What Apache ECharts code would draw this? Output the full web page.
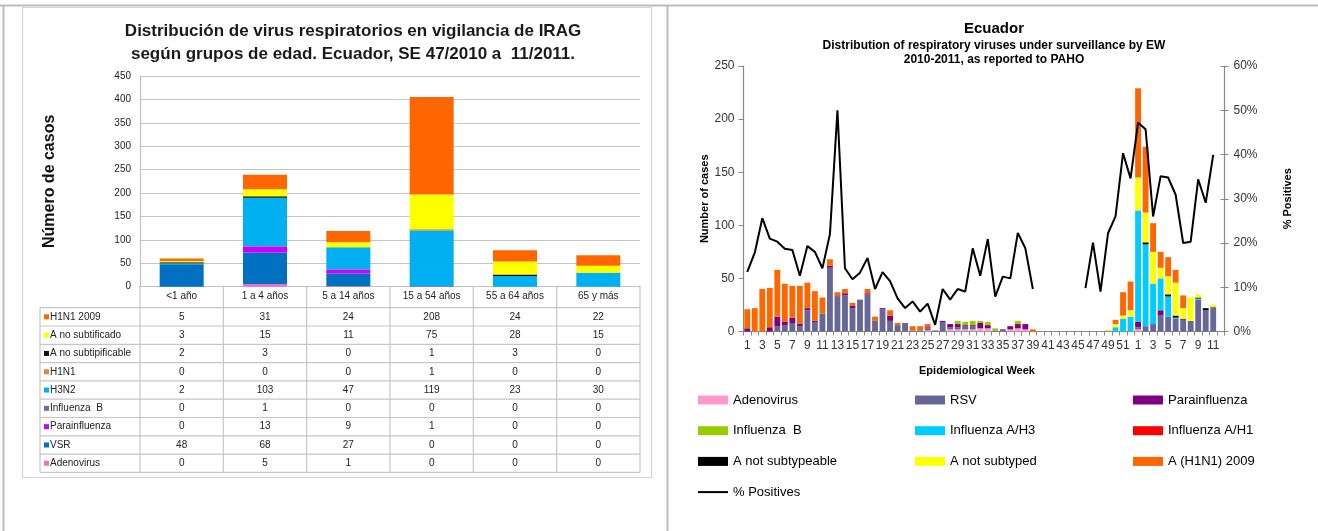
<!DOCTYPE html>
<html><head><meta charset="utf-8">
<script src="https://cdn.jsdelivr.net/npm/echarts@6/dist/echarts.min.js"></script>
<style>html,body{margin:0;padding:0;background:#fff}#c{width:1318px;height:531px}</style>
</head><body><div id="c"></div>
<script>
// ---------- LEFT CHART DATA (age groups) ----------
const ageGroups = ['<1 año', '1 a 4 años', '5 a 14 años', '15 a 54 años', '55 a 64 años', '65 y más'];
const adenoAge      = [0, 5, 1, 0, 0, 0];
const vsrAge        = [48, 68, 27, 0, 0, 0];
const paraAge       = [0, 13, 9, 1, 0, 0];
const fluBAge       = [0, 1, 0, 0, 0, 0];
const h3n2Age       = [2, 103, 47, 119, 23, 30];
const h1n1Age       = [0, 0, 0, 1, 0, 0];
const noSubtipifAge = [2, 3, 0, 1, 3, 0];
const noSubtifAge   = [3, 15, 11, 75, 28, 15];
const pdmAge        = [5, 31, 24, 208, 24, 22];
const leftLabels = ['Adenovirus', 'VSR', 'Parainfluenza', 'Influenza  B', 'H3N2', 'H1N1', 'A no subtipificable', 'A no subtificado', 'H1N1 2009'];
const leftData = [adenoAge, vsrAge, paraAge, fluBAge, h3n2Age, h1n1Age, noSubtipifAge, noSubtifAge, pdmAge];
const leftColors = ['#FF66CC', '#0070C0', '#CC00FF', '#8064A2', '#00B0F0', '#E4843C', '#111111', '#FFFF00', '#FF6600'];
const leftTicks = [0, 450, 50];

// ---------- RIGHT CHART DATA (epidemiological weeks 2010-1 .. 2011-12) ----------
const weekLabels = ['1','2','3','4','5','6','7','8','9','10','11','12','13','14','15','16','17','18','19','20',
  '21','22','23','24','25','26','27','28','29','30','31','32','33','34','35','36','37','38','39','40',
  '41','42','43','44','45','46','47','48','49','50','51','52',
  '1','2','3','4','5','6','7','8','9','10','11','12'];
const adenoWk = [0,0,0,0,0,0,0,0,0,0, 0,0,0,0,0,0,0,0,0,0, 0,0,0,0,1,0,0,2,2,2, 2,3,3,0,0,2,3,2,0,0, 0,0,0,0,0,0,0,0,0,0, 0,0, 2,0,0,0,0,0,0,0,0,0,0,null];
const rsvWk   = [0,0,0,0,5,6,8,5,20,9, 17,60,33,34,22,30,35,10,21,10, 6,8,1,1,2,1,9,2,2,3, 3,0,0,1,1,0,0,0,0,0, 0,0,0,0,0,0,0,0,0,0, 0,0, 2,5,7,15,14,12,11,10,30,20,23,null];
const paraWk  = [3,0,0,4,9,3,5,2,2,1, 0,2,1,2,2,0,1,0,1,5, 0,0,0,0,1,0,1,3,3,1, 1,5,3,0,1,3,4,5,0,0, 0,0,0,0,0,0,0,0,0,0, 0,0, 5,0,0,5,0,0,1,0,0,0,0,null];
const fluBWk  = [0,0,0,0,0,0,0,0,0,0, 0,0,0,0,0,0,0,0,0,0, 0,0,0,0,0,0,0,0,3,3, 4,2,3,2,0,0,3,0,0,0, 0,0,0,0,0,0,0,0,1,0, 0,0, 0,0,0,0,0,0,0,0,0,0,0,null];
const h3Wk    = [0,0,0,0,0,0,0,0,0,0, 0,0,0,0,0,0,0,0,0,0, 0,0,0,0,0,0,0,0,0,0, 0,0,0,0,0,0,0,0,0,0, 0,0,0,0,0,0,0,0,0,4, 12,14, 105,77,38,30,19,1,0,0,1,0,0,null];
const h1Wk    = [0,0,0,0,0,0,0,0,0,0, 0,0,0,0,0,0,0,0,0,0, 0,0,0,0,0,0,0,0,0,0, 0,0,0,0,0,0,0,0,0,0, 0,0,0,0,0,0,0,0,0,0, 0,0, 0,0,0,0,0,0,0,0,0,0,0,null];
const notSubtypeableWk = [0,0,0,0,0,0,0,0,0,0, 0,0,0,0,0,0,0,0,0,0, 0,0,0,0,0,0,0,0,0,0, 0,0,0,0,0,0,0,0,0,0, 0,0,0,0,0,0,0,0,0,0, 0,0, 0,2,0,0,2,2,0,0,1,2,0,null];
const notSubtypedWk    = [0,0,0,0,0,0,0,0,0,0, 0,0,0,0,0,0,0,0,0,0, 0,0,0,0,0,0,0,0,0,0, 0,0,0,0,0,0,0,0,0,0, 0,0,0,0,0,0,0,0,0,3, 3,6, 31,28,30,10,17,31,10,22,3,0,2,null];
const pdmWk   = [18,22,40,37,44,36,30,36,24,28, 15,6,3,4,3,0,4,4,0,5, 2,0,4,4,3,0,0,0,0,0, 0,0,0,0,0,0,0,0,2,0, 0,0,0,0,0,0,0,0,0,4, 22,27, 84,62,27,15,18,12,12,0,0,0,0,null];
const pctPositive = [13.5,17.8,25.6,21,20.3,18.7,18.4,12.6,19.3,18, 14.3,22,50,14.3,11.8,13.3,16.6,9.6,13.4,11.4,
  7.5,5.3,6.8,4.5,6.3,1.5,9.6,7.2,9.6,9.0, 18.8,12.6,20.9,7.9,12.4,12.0,22.3,18.8,9.6,null,
  null,null,null,null,null,9.8,20.1,9.0,22.2,26, 40.3,34.6,
  47.2,45.7,26,35.1,34.8,30.9,20,20.3,34.4,29.1,39.9,null];
const rightNames = ['Adenovirus', 'RSV', 'Parainfluenza', 'Influenza  B', 'Influenza A/H3', 'Influenza A/H1', 'A not subtypeable', 'A not subtyped', 'A (H1N1) 2009'];
const rightData = [adenoWk, rsvWk, paraWk, fluBWk, h3Wk, h1Wk, notSubtypeableWk, notSubtypedWk, pdmWk];
const rightColors = ['#FF99CC', '#666699', '#800080', '#99CC00', '#00CCFF', '#FF0000', '#000000', '#FFFF00', '#FF6600'];
const lineName = '% Positives';

// ---------- LAYOUT ----------
const NARROW = "'Liberation Sans Narrow', 'Liberation Sans', Arial, sans-serif";
const ARIAL = "'Liberation Sans', Arial, sans-serif";
const LG = {left: 140, top: 76, width: 500, height: 210.7};
const RG = {left: 743.5, top: 66, width: 481, height: 265.5};
const rowTop = LG.top + LG.height + 21, rowH = 18.3, tblLeft = 40;

const chart = echarts.init(document.getElementById('c'), null, {renderer: 'canvas'});

// table graphics (text built from data arrays)
const g = [];
const colW = LG.width / ageGroups.length;
const nRows = leftLabels.length;
const tblBottom = rowTop + nRows * rowH;
const lineStyle = {stroke: '#C6C6C6', lineWidth: 1.2};
for (let i = 0; i <= nRows; i++) {
  g.push({type: 'line', silent: true, shape: {x1: tblLeft, y1: rowTop + i * rowH, x2: LG.left + LG.width, y2: rowTop + i * rowH}, style: lineStyle});
}
g.push({type: 'line', silent: true, shape: {x1: tblLeft, y1: rowTop, x2: tblLeft, y2: tblBottom}, style: lineStyle});
for (let j = 0; j <= ageGroups.length; j++) {
  g.push({type: 'line', silent: true, shape: {x1: LG.left + j * colW, y1: LG.top + LG.height, x2: LG.left + j * colW, y2: tblBottom}, style: lineStyle});
}
for (let i = 0; i < nRows; i++) {
  const s = nRows - 1 - i;
  const cy = rowTop + (i + 0.5) * rowH;
  g.push({type: 'rect', silent: true, shape: {x: tblLeft + 4, y: cy - 2.5, width: 5, height: 5}, style: {fill: leftColors[s]}});
  g.push({type: 'text', silent: true, x: tblLeft + 10, y: cy, style: {text: leftLabels[s], font: '10px ' + NARROW, fill: '#222', textVerticalAlign: 'middle', verticalAlign: 'middle'}});
  for (let j = 0; j < ageGroups.length; j++) {
    g.push({type: 'text', silent: true, x: LG.left + (j + 0.5) * colW, y: cy, style: {text: String(leftData[s][j]), font: '10px ' + NARROW, fill: '#222', align: 'center', textAlign: 'center', verticalAlign: 'middle', textVerticalAlign: 'middle'}});
  }
}
// frames
g.push({type: 'line', silent: true, shape: {x1: 0, y1: 5.5, x2: 1318, y2: 5.5}, style: {stroke: '#BBBBBB', lineWidth: 2}});
g.push({type: 'line', silent: true, shape: {x1: 3.5, y1: 5, x2: 3.5, y2: 531}, style: {stroke: '#BBBBBB', lineWidth: 2}});
g.push({type: 'line', silent: true, shape: {x1: 667.5, y1: 5, x2: 667.5, y2: 531}, style: {stroke: '#BBBBBB', lineWidth: 2}});
g.push({type: 'rect', silent: true, shape: {x: 22.5, y: 7.5, width: 629, height: 470}, style: {fill: 'none', stroke: '#D4D4D4', lineWidth: 1.2}});

const series = [];
leftLabels.forEach((name, k) => {
  series.push({
    type: 'bar', name: 'edad-' + name, stack: 'L', xAxisIndex: 0, yAxisIndex: 0,
    data: leftData[k], barWidth: 44, itemStyle: {color: leftColors[k]}, legendHoverLink: false
  });
});
rightNames.forEach((name, k) => {
  series.push({
    type: 'bar', name: name, stack: 'R', xAxisIndex: 1, yAxisIndex: 1,
    data: rightData[k], barCategoryGap: '22%', itemStyle: {color: rightColors[k]}
  });
});
series.push({
  type: 'line', name: lineName, xAxisIndex: 1, yAxisIndex: 2, data: pctPositive,
  symbol: 'none', connectNulls: false, z: 10,
  lineStyle: {color: '#000', width: 2}, itemStyle: {color: '#000'}
});

const legendBase = {
  orient: 'vertical', top: 393, padding: 0, itemWidth: 30, itemHeight: 9, itemGap: 16.7, selectedMode: false,
  textStyle: {fontSize: 13, lineHeight: 14, color: '#000', fontFamily: ARIAL}
};
const rectItem = n => ({name: n, icon: 'rect'});

chart.setOption({
  animation: false,
  backgroundColor: '#fff',
  title: [
    {text: 'Distribución de virus respiratorios en vigilancia de IRAG\nsegún grupos de edad. Ecuador, SE 47/2010 a  11/2011.',
     left: 353, top: 19.5, padding: 0, textAlign: 'center',
     textStyle: {fontSize: 17, lineHeight: 23, fontWeight: 'bold', color: '#1a1a1a', fontFamily: NARROW}},
    {text: 'Ecuador', left: 994, top: 21, padding: 0, textAlign: 'center',
     textStyle: {fontSize: 15, fontWeight: 'bold', color: '#000', fontFamily: ARIAL}},
    {text: 'Distribution of respiratory viruses under surveillance by EW\n2010-2011, as reported to PAHO',
     left: 994, top: 39, padding: 0, textAlign: 'center',
     textStyle: {fontSize: 12, lineHeight: 14, fontWeight: 'bold', color: '#000', fontFamily: ARIAL}}
  ],
  legend: [
    Object.assign({left: 697, data: [rectItem('Adenovirus'), rectItem('Influenza  B'), rectItem('A not subtypeable'), {name: lineName, itemStyle: {opacity: 0}}]}, legendBase),
    Object.assign({left: 915, data: [rectItem('RSV'), rectItem('Influenza A/H3'), rectItem('A not subtyped')]}, legendBase),
    Object.assign({left: 1133, data: [rectItem('Parainfluenza'), rectItem('Influenza A/H1'), rectItem('A (H1N1) 2009')]}, legendBase)
  ],
  grid: [
    Object.assign({containLabel: false}, LG),
    Object.assign({containLabel: false}, RG)
  ],
  xAxis: [
    {type: 'category', gridIndex: 0, data: ageGroups,
     axisLine: {lineStyle: {color: '#C0C0C0', width: 1.2}}, axisTick: {show: false},
     axisLabel: {fontSize: 10, color: '#222', fontFamily: NARROW, margin: 5}},
    {type: 'category', gridIndex: 1, data: weekLabels,
     axisLine: {lineStyle: {color: '#888', width: 1.2}},
     axisTick: {show: true, interval: 0, length: 4, lineStyle: {color: '#888'}},
     axisLabel: {interval: 1, fontSize: 12, color: '#333', fontFamily: ARIAL, margin: 8},
     name: 'Epidemiological Week', nameLocation: 'middle', nameGap: 34,
     nameTextStyle: {fontSize: 11, fontWeight: 'bold', color: '#000', fontFamily: ARIAL, padding: [0, 14, 0, 0]}}
  ],
  yAxis: [
    {type: 'value', gridIndex: 0, min: leftTicks[0], max: leftTicks[1], interval: leftTicks[2],
     axisLine: {show: true, lineStyle: {color: '#C0C0C0', width: 1.2}}, axisTick: {show: false},
     splitLine: {lineStyle: {color: '#C4C4C4', width: 1.2}},
     axisLabel: {fontSize: 10, color: '#222', fontFamily: NARROW, margin: 9},
     name: 'Número de casos', nameLocation: 'middle', nameGap: 82, nameRotate: 90,
     nameTextStyle: {fontSize: 16, fontWeight: 'bold', color: '#111', fontFamily: ARIAL}},
    {type: 'value', gridIndex: 1, min: 0, max: 250, interval: 50, position: 'left',
     axisLine: {show: true, lineStyle: {color: '#888', width: 1.2}},
     axisTick: {show: true, length: 5, lineStyle: {color: '#888'}},
     splitLine: {show: false},
     axisLabel: {fontSize: 12, color: '#333', fontFamily: ARIAL, margin: 9},
     name: 'Number of cases', nameLocation: 'middle', nameGap: 32, nameRotate: 90,
     nameTextStyle: {fontSize: 11, fontWeight: 'bold', color: '#000', fontFamily: ARIAL}},
    {type: 'value', gridIndex: 1, min: 0, max: 60, interval: 10, position: 'right',
     axisLine: {show: true, lineStyle: {color: '#888', width: 1.2}},
     axisTick: {show: true, length: 4, lineStyle: {color: '#888'}},
     splitLine: {show: false},
     axisLabel: {fontSize: 12, color: '#333', fontFamily: ARIAL, margin: 9, formatter: '{value}%'},
     name: '% Positives', nameLocation: 'middle', nameGap: 58, nameRotate: 90,
     nameTextStyle: {fontSize: 11, fontWeight: 'bold', color: '#000', fontFamily: ARIAL}},
    {type: 'value', gridIndex: 1, min: 0, max: 60, interval: 10, position: 'right',
     axisLine: {show: false}, axisTick: {show: true, inside: true, length: 4, lineStyle: {color: '#888'}},
     splitLine: {show: false}, axisLabel: {show: false}}
  ],
  graphic: g,
  series: series
});
</script></body></html>
